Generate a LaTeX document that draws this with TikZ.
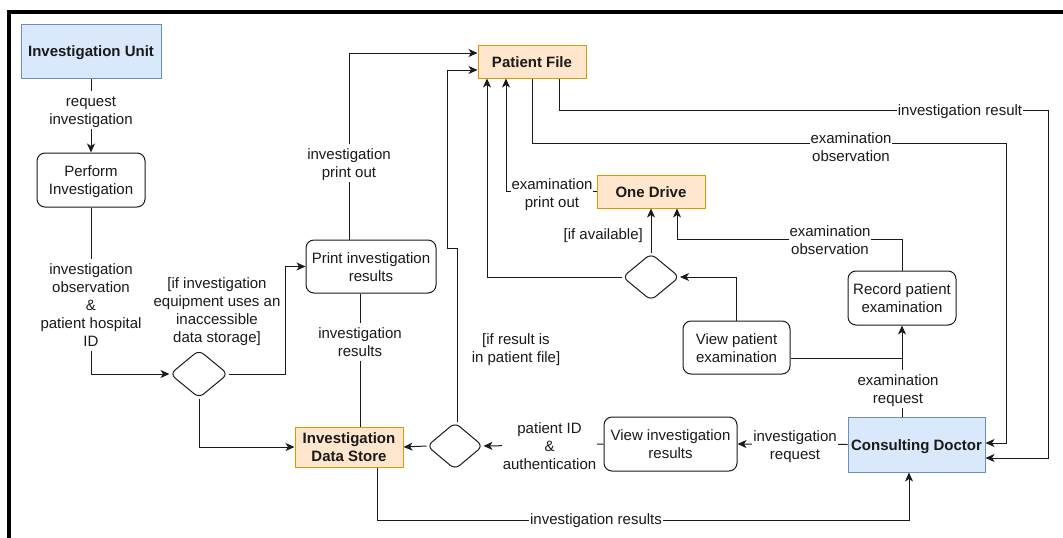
\documentclass[tikz,border=0pt]{standalone}
\usepackage{fontspec}
\setmainfont{Liberation Sans}
\usetikzlibrary{arrows.meta,shapes.geometric}
\definecolor{bluefill}{HTML}{DAE8FC}
\definecolor{blueline}{HTML}{6C8EBF}
\definecolor{orgfill}{HTML}{FFE6CC}
\definecolor{orgline}{HTML}{D79B00}
\definecolor{ink}{HTML}{1A1A1A}
% centred lines on an 18pt grid, lowered slightly inside their box
\newcommand\mltext[1]{\raisebox{-2.2pt}[\height][\depth]{\begin{tabular}{@{}c@{}}#1\end{tabular}}}
\begin{document}
\begin{tikzpicture}[x=1pt,y=-1pt,
  every node/.style={font=\fontsize{15}{18}\selectfont, text=ink, inner sep=2pt},
  blu/.style={draw=blueline, fill=bluefill, line width=1pt, font=\fontsize{15}{18}\selectfont\bfseries},
  org/.style={draw=orgline, fill=orgfill, line width=1pt, font=\fontsize{15}{18}\selectfont\bfseries},
  act/.style={draw=ink, fill=white, rounded corners=8pt, line width=1pt},
  dia/.style={draw=ink, fill=white, shape=diamond, rounded corners=6pt, inner sep=0pt, line width=1pt},
  lbl/.style={fill=white, inner sep=1pt},
  link/.style={draw=ink, line width=1pt},
  arr/.style={link, -{Stealth[length=9pt,width=8pt,inset=2.5pt]}}]

% page area and frame
\useasboundingbox (0,0) rectangle (1063,538);
\draw[line width=3.5pt] (9,538) -- (9,12) -- (1063,12);

% actors, stores and activities
\node[blu, minimum width=140pt, minimum height=54pt] (iu) at (91,51) {\mltext{Investigation Unit}};
\node[act, minimum width=108pt, minimum height=54pt] (pi) at (91,180) {\mltext{Perform\\Investigation}};
\node[act, minimum width=130pt, minimum height=53pt] (pir) at (371,266.5) {\mltext{Print investigation\\results}};
\node[org, minimum width=108pt, minimum height=38pt] (ids) at (349,447) {\mltext{Investigation\\Data Store}};
\node[org, minimum width=108pt, minimum height=33pt] (pf) at (532,61.5) {\mltext{Patient File}};
\node[org, minimum width=108pt, minimum height=33pt] (od) at (651,191.5) {\mltext{One Drive}};
\node[act, minimum width=107pt, minimum height=53pt] (vpe) at (736.5,347.5) {\mltext{View patient\\examination}};
\node[act, minimum width=108pt, minimum height=54pt] (rpe) at (902,298) {\mltext{Record patient\\examination}};
\node[blu, minimum width=137pt, minimum height=55pt] (cd) at (916.5,444.5) {\mltext{Consulting Doctor}};
\node[act, minimum width=133pt, minimum height=54pt] (vir) at (670.5,444) {\mltext{View investigation\\results}};

% decisions
\node[dia, minimum width=58pt, minimum height=48pt] (d1) at (199,374) {};
\node[dia, minimum width=56pt, minimum height=47pt] (d2) at (455,446) {};
\node[dia, minimum width=57pt, minimum height=47pt] (d3) at (651,277) {};

% investigation unit side
\draw[arr] (iu) -- (pi);
\node[lbl] at (91,110) {\mltext{request\\investigation}};
\draw[arr] (pi.south) |- (d1.west);
\node[lbl] at (91,305) {\mltext{investigation\\observation\\\&\\patient hospital\\ID}};
\draw[arr] (d1.east) -- ++(57,0) |- (pir.west);
\node at (217,310) {\mltext{[if investigation\\equipment uses an\\inaccessible\\data storage]}};
\draw[arr] (d1.south) |- (ids.west);

% print out and data store
\draw[arr] ([xshift=-22pt]pir.north) |- ([yshift=8.5pt]pf.west);
\node[lbl] at (349,163) {\mltext{investigation\\print out}};
\coordinate (pirout) at ([xshift=-11pt]pir.south);
\draw[link] (pirout) -- (pirout |- ids.north);
\node[lbl] at (360,342) {\mltext{investigation\\results}};

% result lookup
\draw[arr] (d2.west) -- (ids.east);
\draw[arr] ([xshift=2pt]d2.north) -- ++(0,-174) -- ++(-10,0) |- ([yshift=-8.5pt]pf.west);
\node at (516,348) {\mltext{[if result is\\in patient file]}};
\draw[arr] (vir.west) -- (d2.east);
\node[lbl] at (549.5,446) {\mltext{patient ID\\\&\\authentication}};
\draw[arr] (cd.west) -- (vir.east);
\node[lbl] at (795,445) {\mltext{investigation\\request}};

% examination records
\draw[arr] (d3.west) -| ([xshift=-45pt]pf.south);
\draw[arr] (od.west) -| ([xshift=-26pt]pf.south);
\node[lbl] at (552,193) {\mltext{examination\\print out}};
\draw[arr] (d3.north) -- (od.south);
\node[lbl, anchor=east] at (644,234) {\mltext{[if available]}};
\draw[arr] (rpe.north) -- ++(0,-31) -| ([xshift=26pt]od.south);
\node[lbl] at (830,240) {\mltext{examination\\observation}};
\draw[arr] (vpe.north) |- (d3.east);

% consulting doctor requests
\coordinate (cdtop) at ([xshift=-14.5pt]cd.north);
\draw[arr] (cdtop) -- (cdtop |- rpe.south);
\coordinate (junc) at ([yshift=-10.5pt]vpe.east -| rpe.south);
\draw[link] (junc) -- ([yshift=-10.5pt]vpe.east);
\node[lbl] at (898,389) {\mltext{examination\\request}};

% patient file to consulting doctor
\draw[arr] ([xshift=27pt]pf.south) -- ++(0,32) -| ([xshift=63pt,yshift=-13.5pt]cd.east) -- ([yshift=-13.5pt]cd.east);
\node[lbl] at (960,110) {\mltext{investigation result}};
\draw[arr] (pf.south) -- ++(0,65) -| ([xshift=21pt,yshift=1.5pt]cd.east) -- ([yshift=1.5pt]cd.east);
\node[lbl] at (851,147) {\mltext{examination\\observation}};

% data store to consulting doctor
\draw[arr] ([xshift=28pt]ids.south) -- ++(0,53) -| ([xshift=-7.5pt]cd.south);
\node[lbl] at (596,519) {\mltext{investigation results}};
\end{tikzpicture}
\end{document}
